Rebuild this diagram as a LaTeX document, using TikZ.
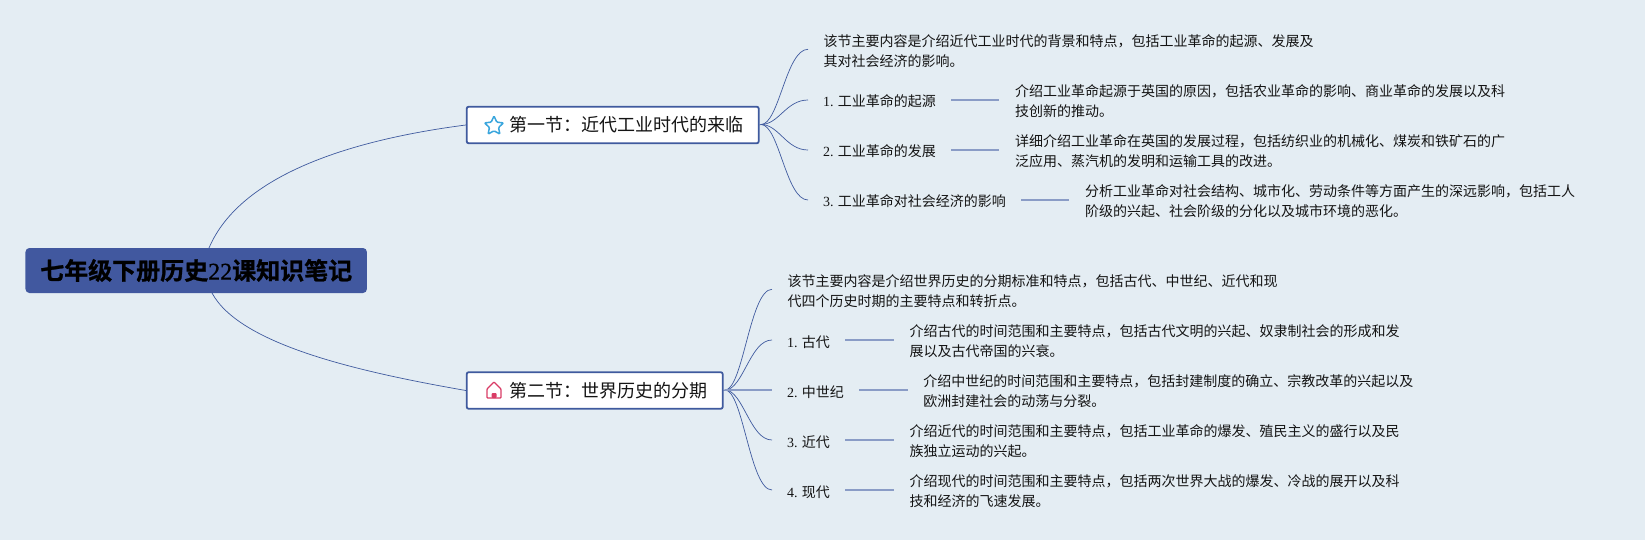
\documentclass[tikz,border=0pt]{standalone}
\usepackage{fontspec}
\setmainfont{Noto Sans CJK SC}
\newfontfamily\lat{Liberation Serif}
\newfontfamily\rootcjk[FakeBold=1]{Noto Sans CJK SC Bold}
\newfontfamily\rootlat[FakeBold=0.8]{Liberation Serif}
\usetikzlibrary{shapes.geometric}
\definecolor{bgc}{HTML}{E4EDF3}
\definecolor{edge}{HTML}{3F5A9E}
\definecolor{rootc}{HTML}{41589F}
\definecolor{lite}{HTML}{8A9CC6}
\definecolor{inkc}{HTML}{141414}
\definecolor{starc}{HTML}{3AA6DD}
\definecolor{homec}{HTML}{D93C66}
\tikzset{
 x=1pt,y=-1pt,
 rootbox/.style={fill=rootc,rounded corners=4pt,minimum width=341.5,minimum height=45,inner sep=0,text=black,font=\fontsize{24}{28}\selectfont\rootcjk},
 secbox/.style={draw=edge,line width=1.8pt,fill=white,rounded corners=2pt,minimum height=36.6,inner sep=0,text=inkc,font=\fontsize{18}{22}\selectfont},
 para/.style={anchor=west,inner xsep=15.5,inner ysep=0,align=left,text=inkc,font=\fontsize{14}{20.6}\selectfont},
 item/.style={anchor=west,inner xsep=15,inner ysep=0,text height=14,text depth=0,text=inkc,font=\fontsize{14}{18}\selectfont},
 curve/.style={draw=edge,line width=0.7pt},
 stub/.style={draw=lite,line width=1.6pt},
}
\newcommand{\secind}{\hspace*{27.2pt}}
\newcommand{\num}[1]{{\lat #1.}\hspace*{4.1pt}}
\begin{document}
\begin{tikzpicture}
\useasboundingbox (0,0) rectangle (1645,540);
\fill[bgc] (0,0) rectangle (1645,540);
% root and sections
\node[rootbox] (root) at (196.2,270.5) {七年级下册历史{\rootlat 22}课知识笔记};
\node[secbox,minimum width=292] (s1) at (612.7,125) {\secind 第一节：近代工业时代的来临};
\node[secbox,minimum width=256] (s2) at (594.7,390.5) {\secind 第二节：世界历史的分期};
\coordinate (rt) at (209,248);
\coordinate (rb) at (212,293);
\draw[curve] (rt) .. controls (240,175) and (350,140) .. (s1.west);
\draw[curve] (rb) .. controls (240,345) and (360,372) .. (s2.west);
% icons
\node[star,star points=5,star point ratio=2.1,draw=starc,line width=1.5pt,fill=white,minimum size=20,inner sep=0,rounded corners=1pt] (ic1) at (494,126) {};
\draw[homec,line width=1.3pt,line join=round,rounded corners=0.8pt] (487,398) -- (487,389) -- (494,382) -- (501,389) -- (501,398) -- cycle;
\fill[homec,rounded corners=1pt] (491.5,398) -- (491.5,393) -- (496.5,393) -- (496.5,398) -- cycle;
% section 1
\coordinate (j1) at (761,124.5);
\draw[curve] (s1.east) -- (j1);
\node[para] (p1) at (808,51) {该节主要内容是介绍近代工业时代的背景和特点，包括工业革命的起源、发展及\\其对社会经济的影响。};
\node[item] (a1) at (808,100) {\num{1}工业革命的起源};
\node[item] (a2) at (808,150) {\num{2}工业革命的发展};
\node[item] (a3) at (808,200) {\num{3}工业革命对社会经济的影响};
\node[para] (b1) at (999.4,101) {介绍工业革命起源于英国的原因，包括农业革命的影响、商业革命的发展以及科\\技创新的推动。};
\node[para] (b2) at (999.4,151) {详细介绍工业革命在英国的发展过程，包括纺织业的机械化、煤炭和铁矿石的广\\泛应用、蒸汽机的发明和运输工具的改进。};
\node[para] (b3) at (1069.3,201) {分析工业革命对社会结构、城市化、劳动条件等方面产生的深远影响，包括工人\\阶级的兴起、社会阶级的分化以及城市环境的恶化。};
\draw[curve] (j1) .. controls +(18,0) and +(-22,0) .. ([yshift=1.7pt]p1.west);
\foreach \n in {a1,a2,a3}{\draw[curve] (j1) .. controls +(18,0) and +(-22,0) .. (\n.west);}
\draw[stub] (a1.east) -- (a1.east -| b1.west);
\draw[stub] (a2.east) -- (a2.east -| b2.west);
\draw[stub] (a3.east) -- (a3.east -| b3.west);
% section 2
\coordinate (j2) at (725,390);
\draw[curve] (s2.east) -- (j2);
\node[para] (p2) at (772,291) {该节主要内容是介绍世界历史的分期标准和特点，包括古代、中世纪、近代和现\\代四个历史时期的主要特点和转折点。};
\node[item] (c1) at (772,340) {\num{1}古代};
\node[item] (c2) at (772,390) {\num{2}中世纪};
\node[item] (c3) at (772,440) {\num{3}近代};
\node[item] (c4) at (772,490) {\num{4}现代};
\node[para] (d1) at (893.8,341) {介绍古代的时间范围和主要特点，包括古代文明的兴起、奴隶制社会的形成和发\\展以及古代帝国的兴衰。};
\node[para] (d2) at (907.6,391) {介绍中世纪的时间范围和主要特点，包括封建制度的确立、宗教改革的兴起以及\\欧洲封建社会的动荡与分裂。};
\node[para] (d3) at (893.8,441) {介绍近代的时间范围和主要特点，包括工业革命的爆发、殖民主义的盛行以及民\\族独立运动的兴起。};
\node[para] (d4) at (893.8,491) {介绍现代的时间范围和主要特点，包括两次世界大战的爆发、冷战的展开以及科\\技和经济的飞速发展。};
\draw[curve] (j2) .. controls +(18,0) and +(-22,0) .. ([yshift=1.7pt]p2.west);
\foreach \n in {c1,c3,c4}{\draw[curve] (j2) .. controls +(18,0) and +(-22,0) .. (\n.west);}
\draw[stub] (j2) -- (c2.west);
\draw[stub] (c1.east) -- (c1.east -| d1.west);
\draw[stub] (c2.east) -- (c2.east -| d2.west);
\draw[stub] (c3.east) -- (c3.east -| d3.west);
\draw[stub] (c4.east) -- (c4.east -| d4.west);
\end{tikzpicture}
\end{document}
